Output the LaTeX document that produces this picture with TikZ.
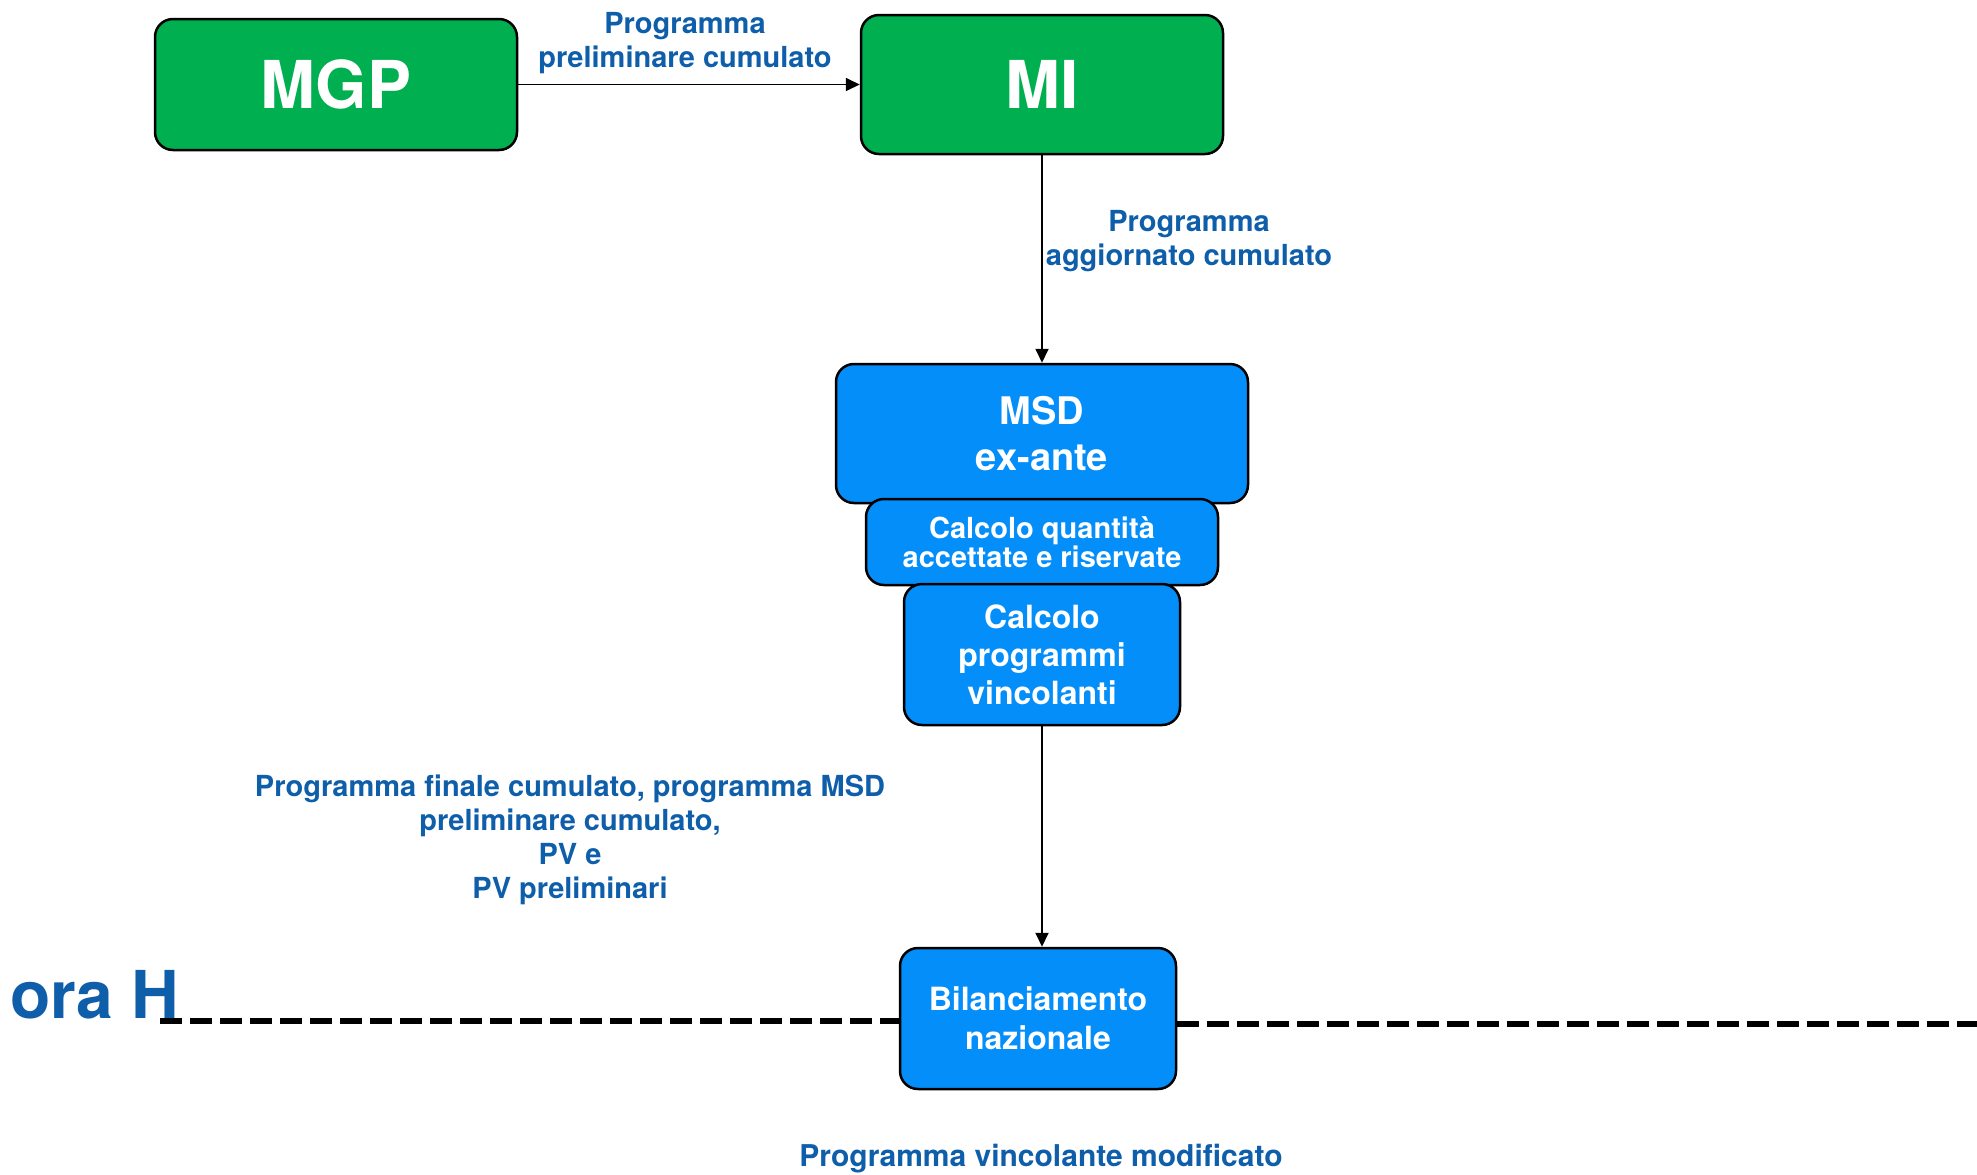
\documentclass[tikz,border=0pt]{standalone}
\usepackage{fontspec}
\setmainfont{TeX Gyre Heros}
\usetikzlibrary{arrows.meta}
\definecolor{boxgreen}{RGB}{0,176,80}
\definecolor{boxblue}{RGB}{4,142,250}
\definecolor{lblblue}{RGB}{14,94,170}
\tikzset{
  box/.style={draw=black, line width=1.25pt, rounded corners=9pt, inner sep=0pt, text=white, align=center, font=\bfseries},
  gbox/.style={box, fill=boxgreen},
  bbox/.style={box, fill=boxblue},
  lbl/.style={text=lblblue, align=center, inner sep=0pt, font=\bfseries\fontsize{14.5}{17}\selectfont},
  conn/.style={line width=0.9pt, -{Triangle[length=7pt,width=6.5pt]}},
  hline/.style={line width=3.2pt, dash pattern=on 11pt off 4pt}
}
\begin{document}
\begin{tikzpicture}[x=0.5pt,y=-0.5pt]
\useasboundingbox (0,0) rectangle (1977,1174);
% boxes
\node[gbox, minimum width=181pt, minimum height=65.5pt, font=\bfseries\fontsize{33}{36}\selectfont] (mgp) at (336,84.5) {MGP};
\node[gbox, minimum width=181pt, minimum height=69.5pt, font=\bfseries\fontsize{33}{36}\selectfont] (mi) at (1042,84.5) {MI};
\node[bbox, minimum width=206pt, minimum height=69.5pt, font=\bfseries\fontsize{19}{22.7}\selectfont] (msd) at (1042,433.5) {MSD\\ex-ante};
\node[bbox, minimum width=176pt, minimum height=43pt, font=\bfseries\fontsize{14.5}{14.5}\selectfont] (cq) at (1042,542) {Calcolo quantità\\accettate e riservate};
\node[bbox, minimum width=138pt, minimum height=70.5pt, font=\bfseries\fontsize{16}{19}\selectfont] (cp) at (1042,654.5) {Calcolo\\programmi\\vincolanti};
\node[bbox, minimum width=138pt, minimum height=70.5pt, font=\bfseries\fontsize{16}{19.5}\selectfont] (bil) at (1038,1018.5) {Bilanciamento\\nazionale};
% connectors
\draw[conn] (mgp.east) -- (mi.west);
\draw[conn] (mi.south) -- (msd.north);
\draw[conn] (cp.south) -- (bil.north -| cp.south);
% ora H line
\coordinate (hl) at (160,1021);
\coordinate (hr) at (1977,1024);
\draw[hline] (hl) -- (bil.west |- hl);
\draw[hline] (bil.east |- hr) -- (hr);
% labels
\node[lbl] (l1) at (685,43.5) {Programma\\preliminare cumulato};
\node[lbl] (l2) at (1189,241.5) {Programma\\aggiornato cumulato};
\node[lbl] (l3) at (570,840) {Programma finale cumulato, programma MSD\\preliminare cumulato,\\PV e\\PV preliminari};
\node[lbl, font=\bfseries\fontsize{15}{17}\selectfont] (l4) at (1041,1159) {Programma vincolante modificato};
\node[text=lblblue, inner sep=0pt, anchor=west, font=\bfseries\fontsize{33}{36}\selectfont] (orah) at (10,995) {ora H};
\end{tikzpicture}
\end{document}
